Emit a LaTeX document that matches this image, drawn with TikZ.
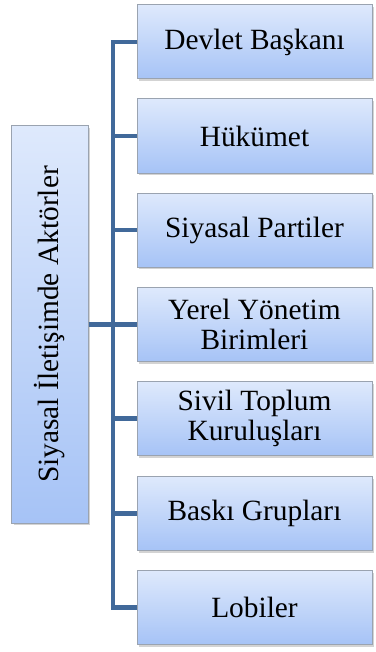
\documentclass[tikz,border=0pt]{standalone}
\usepackage{fontspec}
\setmainfont{Liberation Serif}
\usetikzlibrary{shadows}
\definecolor{barblue}{HTML}{41699A}
\definecolor{boxtop}{HTML}{DEE9FC}
\definecolor{boxbot}{HTML}{A6C3F6}
\definecolor{boxline}{HTML}{9AA3B0}
\tikzset{
  actor/.style={draw=boxline, line width=1bp, top color=boxtop, bottom color=boxbot,
    minimum width=235bp, minimum height=74bp, align=center, inner sep=0pt,
    font=\fontsize{29.5}{30}\selectfont,
    drop shadow={shadow xshift=2bp, shadow yshift=-2bp, opacity=.35}},
  link/.style={draw=barblue, line width=4.5bp}
}
\begin{document}
\begin{tikzpicture}[x=1bp,y=-1bp]
\useasboundingbox (0,0) rectangle (375,652);
\node[actor, rotate=90, minimum width=397bp, minimum height=76bp] (root) at (50,324.5){Siyasal İletişimde Aktörler};
\node[actor] (act1) at (254.5,42){Devlet Başkanı};
\node[actor] (act2) at (254.5,136){Hükümet};
\node[actor] (act3) at (254.5,230){Siyasal Partiler};
\node[actor] (act4) at (254.5,324.5){Yerel Yönetim\\Birimleri};
\node[actor] (act5) at (254.5,418.5){Sivil Toplum\\Kuruluşları};
\node[actor] (act6) at (254.5,513.5){Baskı Grupları};
\node[actor] (act7) at (254.5,607.5){Lobiler};
\coordinate (bus) at (113,0);
\begin{scope}[on background layer/.try]
\draw[link] (act1.west) -- (act1.west -| bus) -- (act7.west -| bus) -- (act7.west);
\foreach \i in {2,...,6}
  \draw[link] (act\i.west -| bus) -- (act\i.west);
\draw[link] (root.south) -- (root.south -| bus);
\end{scope}
\end{tikzpicture}
\end{document}
